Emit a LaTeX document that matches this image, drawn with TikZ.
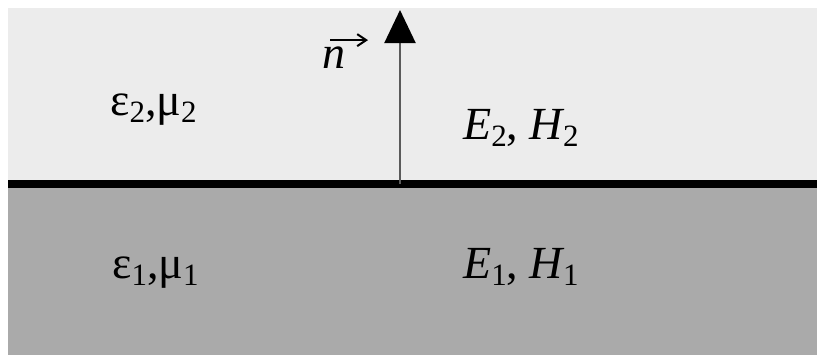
\documentclass[tikz,border=0pt]{standalone}
\usepackage{fontspec}
\setmainfont{Liberation Serif}
\usepackage{xcolor}
\usepackage{tikz}
\usetikzlibrary{arrows.meta,positioning}
\definecolor{upperbg}{RGB}{236,236,236}
\definecolor{lowerbg}{RGB}{170,170,170}
\definecolor{shaftgray}{RGB}{90,90,90}
\newcommand{\lowidx}[1]{\raisebox{-0.16em}{\fontsize{31bp}{31bp}\selectfont #1}}

\begin{document}
\begin{tikzpicture}[
    x=1bp, y=1bp,
    lbl/.style={inner sep=0pt, anchor=base west, font=\fontsize{46bp}{52bp}\selectfont},
    iface/.style={line width=8bp, black},
    normal/.style={-{Triangle[length=33bp,width=31bp,color=black]}, line width=2bp, shaftgray}
]
    \useasboundingbox (0,0) rectangle (817,355);
    % the two media
    \fill[upperbg] (8,171.5) rectangle (817,347);
    \fill[lowerbg] (8,0) rectangle (817,171.5);
    \draw[iface] (8,171.5) -- (817,171.5);

    % normal vector
    \coordinate (foot) at (400,171.5);
    \coordinate (tip) at (400,345);
    \draw[normal] (foot) -- (tip);
    \node[lbl] (nvec) at (322,287) {\itshape n};
    \draw[-{Straight Barb[length=9bp,width=12bp]}, line width=2bp]
        ([xshift=8bp,yshift=6bp]nvec.north west) -- ++(38,0);

    % labels
    \node[lbl] (eps2) at (110,240) {ε\lowidx{2},μ\lowidx{2}};
    \node[lbl] (eps1) at (112,77) {ε\lowidx{1},μ\lowidx{1}};
    \node[lbl] (EH2) at (463,216) {\itshape E\upshape\lowidx{2}, \itshape H\upshape\lowidx{2}};
    \node[lbl] (EH1) at (463,77) {\itshape E\upshape\lowidx{1}, \itshape H\upshape\lowidx{1}};
\end{tikzpicture}
\end{document}
